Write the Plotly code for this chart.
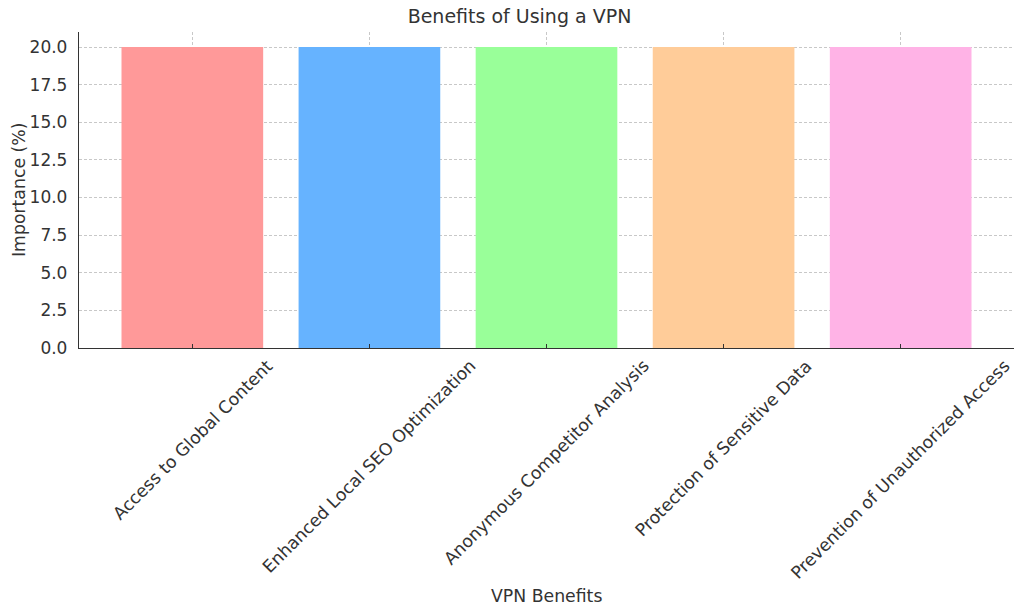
import plotly.graph_objects as go

categories = ["Access to Global Content", "Enhanced Local SEO Optimization",
              "Anonymous Competitor Analysis", "Protection of Sensitive Data",
              "Prevention of Unauthorized Access"]
values = [20, 20, 20, 20, 20]
colors = ["#ff9999", "#66b3ff", "#99ff99", "#ffcc99", "#ffb3e6"]
y_ticks = [0, 2.5, 5, 7.5, 10, 12.5, 15, 17.5, 20]
y_tick_labels = ["0.0", "2.5", "5.0", "7.5", "10.0", "12.5", "15.0", "17.5", "20.0"]

FONT = "DejaVu Sans"
TXT = "#333333"
FS = 17.3

xs = list(range(len(categories)))
fig = go.Figure(go.Bar(x=xs, y=values,
                       marker=dict(color=colors, line=dict(width=0)), width=0.8))

annotations = []
for i, c in enumerate(categories):
    annotations.append(dict(x=i, y=0, xref="x", yref="paper", text=c,
                            textangle=-45, xanchor="center", yanchor="top",
                            yshift=-5, showarrow=False,
                            font=dict(family=FONT, size=FS, color=TXT)))
annotations.append(dict(x=0.5, y=0, xref="paper", yref="paper", text="VPN Benefits",
                        xanchor="center", yanchor="middle", yshift=-248,
                        showarrow=False, font=dict(family=FONT, size=FS, color=TXT)))
annotations.append(dict(x=0, y=0.5, xref="paper", yref="paper", text="Importance (%)",
                        textangle=-90, xanchor="center", yanchor="middle", xshift=-60,
                        showarrow=False, font=dict(family=FONT, size=FS, color=TXT)))

fig.update_layout(
    width=1024, height=616,
    margin=dict(l=79, r=10, t=32, b=268),
    paper_bgcolor="white", plot_bgcolor="white",
    font=dict(family=FONT, size=17, color=TXT),
    title=dict(text="Benefits of Using a VPN", x=519.5 / 1024, xanchor="center",
               xref="container", y=1 - 16 / 616, yanchor="middle",
               font=dict(size=19, color=TXT)),
    showlegend=False,
    annotations=annotations,
)
fig.update_xaxes(
    range=[-0.64, 4.64], tickmode="array", tickvals=xs, showticklabels=False,
    showline=True, linecolor=TXT, linewidth=1.3, ticks="inside", ticklen=4,
    tickcolor=TXT, showgrid=True, gridcolor="#c8c8c8", griddash="3px,2px",
    gridwidth=1, zeroline=False, automargin=False, layer="above traces",
)
fig.update_yaxes(
    range=[0, 21], tickmode="array", tickvals=y_ticks, ticktext=y_tick_labels,
    showline=True, linecolor=TXT, linewidth=1.3, ticks="", ticklabelstandoff=7,
    showgrid=True, gridcolor="#c8c8c8", griddash="3px,2px", gridwidth=1,
    zeroline=False, automargin=False, layer="above traces",
)
fig.write_html("out.html", config={"displayModeBar": False},
               post_script="document.body.style.margin='0';document.body.style.overflow='hidden';")
